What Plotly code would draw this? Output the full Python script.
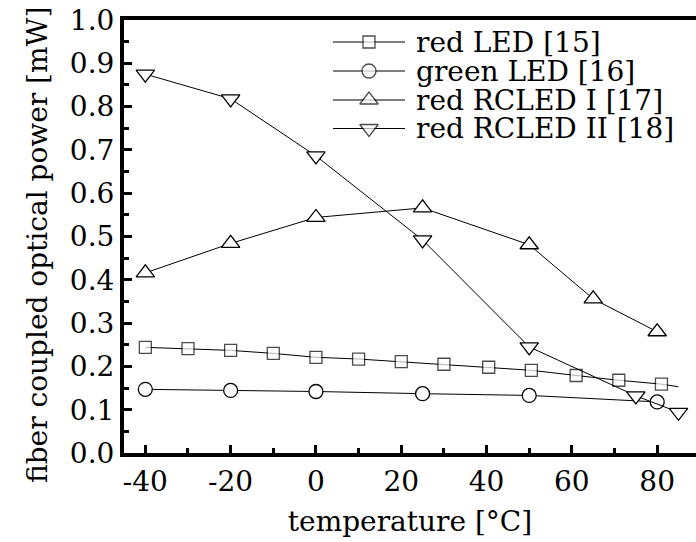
import plotly.graph_objects as go

# ---------------- data ----------------
red_led_x = [-40, -30, -20, -10, 0, 10, 20, 30, 40.5, 50.5, 61, 71, 81, 85]
red_led_y = [0.244, 0.241, 0.237, 0.230, 0.221, 0.217, 0.211, 0.205, 0.198, 0.191, 0.179, 0.168, 0.159, 0.153]
red_led_marked = [1] * 13 + [0]   # last point: line end without symbol

green_led_x = [-40, -20, 0, 25, 50, 80]
green_led_y = [0.147, 0.1445, 0.142, 0.137, 0.133, 0.118]

rcled1_x = [-40, -20, 0, 25, 50, 65, 80]
rcled1_y = [0.416, 0.484, 0.544, 0.566, 0.481, 0.356, 0.280]

rcled2_x = [-40, -20, 0, 25, 50, 75, 85]
rcled2_y = [0.875, 0.818, 0.686, 0.492, 0.245, 0.132, 0.094]

series_names = ["red LED [15]", "green LED [16]", "red RCLED I [17]", "red RCLED II [18]"]
series_symbols = ["square", "circle", "triangle-up", "triangle-down"]
series_sizes = [12, 14, 16, 16]

x_ticks = [-40, -20, 0, 20, 40, 60, 80]
x_minor = [-30, -10, 10, 30, 50, 70]
y_ticks = [0.0, 0.1, 0.2, 0.3, 0.4, 0.5, 0.6, 0.7, 0.8, 0.9, 1.0]
y_minor = [0.05, 0.15, 0.25, 0.35, 0.45, 0.55, 0.65, 0.75, 0.85, 0.95]

x_title = "temperature [°C]"
y_title = "fiber coupled optical power [mW]"

FONT = "DejaVu Serif"
W, H = 696, 542
L, R, T, B = 124, 0, 20, 89
PW, PH = W - L - R, H - T - B

fig = go.Figure()

data = [
    (red_led_x, red_led_y, [s * series_sizes[0] for s in red_led_marked]),
    (green_led_x, green_led_y, series_sizes[1]),
    (rcled1_x, rcled1_y, series_sizes[2]),
    (rcled2_x, rcled2_y, series_sizes[3]),
]
for (xs, ys, size), sym in zip(data, series_symbols):
    fig.add_trace(go.Scatter(
        x=xs, y=ys, mode="lines+markers",
        line=dict(color="black", width=1),
        marker=dict(symbol=sym, size=size, color="white",
                    line=dict(color="black", width=1.3)),
        showlegend=False, hoverinfo="skip",
    ))

# ---------------- hand-made legend (keys drawn in pixel space on hidden overlay axes) ----------------
leg_y_px = [42, 71, 100, 128.5]
key_x0, key_xm, key_x1 = 333, 369, 405
for name, sym, size, yp in zip(series_names, series_symbols, series_sizes, leg_y_px):
    fig.add_trace(go.Scatter(
        x=[key_x0, key_xm, key_x1], y=[yp, yp, yp],
        xaxis="x2", yaxis="y2", mode="lines+markers",
        line=dict(color="black", width=1),
        marker=dict(symbol=sym, size=[0, size, 0], color="white",
                    line=dict(color="black", width=1.3)),
        showlegend=False, hoverinfo="skip",
    ))
    fig.add_annotation(
        x=415, y=yp, xref="x2", yref="y2", text=name, showarrow=False,
        xanchor="left", yanchor="middle", borderpad=0,
        font=dict(family=FONT, size=28, color="black"),
    )

# y-axis title as a rotated annotation in paper coordinates
fig.add_annotation(
    x=(37 - L) / PW, y=(H - B - 245) / PH, xref="paper", yref="paper",
    text=y_title, showarrow=False,
    textangle=-90, xanchor="center", yanchor="middle",
    font=dict(family=FONT, size=28, color="black"),
)

axis_common = dict(
    showgrid=False, zeroline=False, showline=True, linecolor="black", linewidth=4,
    ticks="inside", ticklen=8, tickwidth=3, tickcolor="black",
    tickfont=dict(family=FONT, size=28, color="black"),
)

fig.update_layout(
    width=W, height=H,
    margin=dict(l=L, r=R, t=T, b=B),
    paper_bgcolor="white", plot_bgcolor="white",
    showlegend=False,
    font=dict(family=FONT, size=28, color="black"),
    xaxis=dict(
        range=[-45, 89.1], tickmode="array", tickvals=x_ticks,
        ticktext=[str(v) for v in x_ticks], mirror=True,
        minor=dict(tickmode="array", tickvals=x_minor, ticks="inside",
                   ticklen=5, tickwidth=3, tickcolor="black"),
        title=dict(text=x_title, font=dict(family=FONT, size=28), standoff=16),
        **axis_common,
    ),
    yaxis=dict(
        range=[0, 1.0], tickmode="array", tickvals=y_ticks,
        ticktext=[f"{v:.1f}" for v in y_ticks], mirror=False,
        minor=dict(tickmode="array", tickvals=y_minor, ticks="inside",
                   ticklen=5, tickwidth=3, tickcolor="black"),
        **axis_common,
    ),
    xaxis2=dict(overlaying="x", anchor="y2", range=[L, W - R], visible=False, fixedrange=True),
    yaxis2=dict(overlaying="y", anchor="x2", range=[H - B, T], visible=False, fixedrange=True),
)

fig.write_html("out.html")
